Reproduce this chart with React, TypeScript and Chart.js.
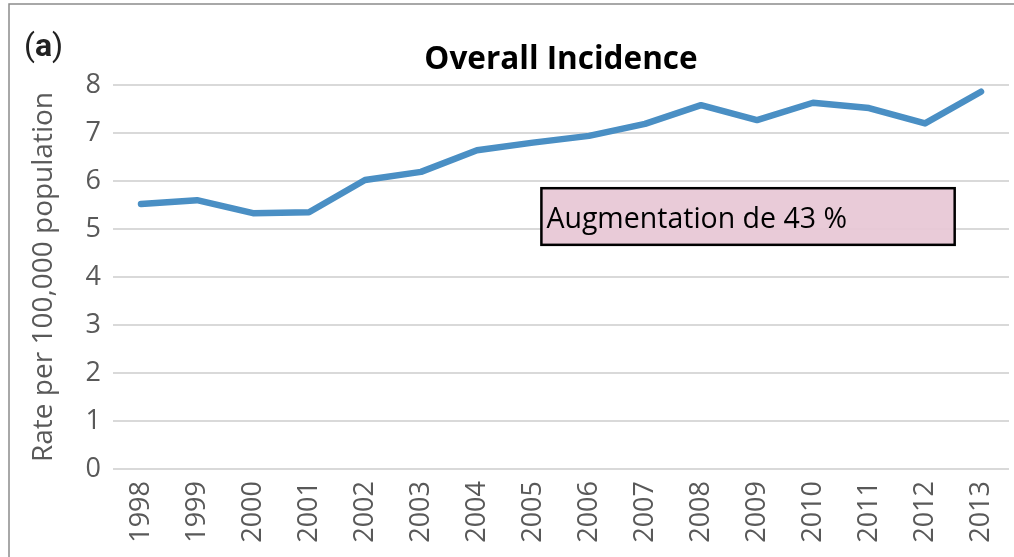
import React, { useEffect, useRef } from "react";
import { Chart, registerables } from "chart.js";

Chart.register(...registerables);

const years = ["1998", "1999", "2000", "2001", "2002", "2003", "2004", "2005", "2006", "2007", "2008", "2009", "2010", "2011", "2012", "2013"];
const incidence = [5.52, 5.6, 5.33, 5.35, 6.02, 6.19, 6.64, 6.8, 6.94, 7.19, 7.58, 7.27, 7.63, 7.52, 7.2, 7.86];
const yTicks = [0, 1, 2, 3, 4, 5, 6, 7, 8];
const titleText = "Overall Incidence";
const yAxisTitle = "Rate per 100,000 population";
const annotationText = "Augmentation de 43 %";
const panelLabel = ["(", "a", ")"];

const FONT = "'Open Sans', sans-serif";
const LABEL_FONT = "Roboto, 'Liberation Sans', sans-serif";

const decorPlugin = {
  id: "decor",
  beforeDraw(chart: any) {
    const ctx = chart.ctx;
    ctx.save();
    ctx.strokeStyle = "#8c8c8c";
    ctx.lineWidth = 1.5;
    ctx.beginPath();
    ctx.moveTo(9, 557);
    ctx.lineTo(9, 4);
    ctx.lineTo(1014, 4);
    ctx.stroke();
    ctx.restore();
  },
  afterDraw(chart: any) {
    const ctx = chart.ctx;
    const ca = chart.chartArea;
    ctx.save();
    // title
    ctx.fillStyle = "#000000";
    ctx.font = `bold 31.5px ${FONT}`;
    ctx.textAlign = "center";
    ctx.textBaseline = "alphabetic";
    ctx.fillText(titleText, (ca.left + ca.right) / 2, 69);
    // panel label
    ctx.textAlign = "left";
    let x = 24;
    panelLabel.forEach((p, i) => {
      ctx.font = i === 1 ? `bold 32px ${LABEL_FONT}` : `32px ${LABEL_FONT}`;
      ctx.fillStyle = "#222222";
      ctx.fillText(p, x, 56);
      x += ctx.measureText(p).width;
    });
    // annotation box
    const xs = chart.scales.x;
    const ys = chart.scales.y;
    const bx = xs.getPixelForValue(7.15);
    const bx2 = xs.getPixelForValue(14.53);
    const by = ys.getPixelForValue(5.85);
    const by2 = ys.getPixelForValue(4.67);
    ctx.fillStyle = "rgba(232, 200, 214, 0.95)";
    ctx.fillRect(bx, by, bx2 - bx, by2 - by);
    ctx.strokeStyle = "#000000";
    ctx.lineWidth = 2.5;
    ctx.strokeRect(bx, by, bx2 - bx, by2 - by);
    ctx.fillStyle = "#000000";
    ctx.font = `28.5px ${FONT}`;
    ctx.textAlign = "left";
    ctx.fillText(annotationText, bx + 5, by + 40);
    ctx.restore();
  },
};

export default function App() {
  const ref = useRef<HTMLCanvasElement | null>(null);
  useEffect(() => {
    if (!ref.current) return;
    const chart = new Chart(ref.current, {
      type: "line",
      data: {
        labels: years,
        datasets: [
          {
            label: "Overall Incidence",
            data: incidence,
            borderColor: "#4a8fc4",
            borderWidth: 6.5,
            pointRadius: 0,
            tension: 0,
            fill: false,
            borderCapStyle: "round",
            borderJoinStyle: "round",
          },
        ],
      },
      options: {
        responsive: false,
        animation: false,
        layout: { padding: { top: 85, right: 5, bottom: 0, left: 0 } },
        plugins: {
          legend: { display: false },
          title: { display: false },
          tooltip: { enabled: false },
        },
        scales: {
          x: {
            offset: true,
            grid: { display: false, drawTicks: false },
            border: { display: false },
            ticks: {
              color: "#595959",
              font: { family: FONT, size: 27 },
              maxRotation: 90,
              minRotation: 90,
              padding: 12,
              autoSkip: false,
            },
            afterFit(scale: any) {
              scale.height = 88;
              scale.paddingLeft = 0;
              scale.paddingRight = 0;
            },
          },
          y: {
            min: yTicks[0],
            max: yTicks[yTicks.length - 1],
            grid: { color: "#d9d9d9", lineWidth: 2, drawTicks: false },
            border: { display: false },
            afterBuildTicks(scale: any) {
              scale.ticks = yTicks.map((v) => ({ value: v }));
            },
            ticks: {
              color: "#595959",
              font: { family: FONT, size: 27 },
              padding: 12,
            },
            title: {
              display: true,
              text: yAxisTitle,
              color: "#595959",
              font: { family: FONT, size: 28, weight: "normal" },
              padding: { top: 27, bottom: 0 },
            },
            afterFit(scale: any) {
              scale.width = 113;
              scale.paddingTop = 0;
              scale.paddingBottom = 0;
            },
          },
        },
      },
      plugins: [decorPlugin],
    });
    return () => chart.destroy();
  }, []);
  return (
    <div style={{ position: "absolute", left: 0, top: 0, width: 1014, height: 557, background: "#ffffff" }}>
      <canvas ref={ref} width={1014} height={557} style={{ display: "block" }} />
    </div>
  );
}
